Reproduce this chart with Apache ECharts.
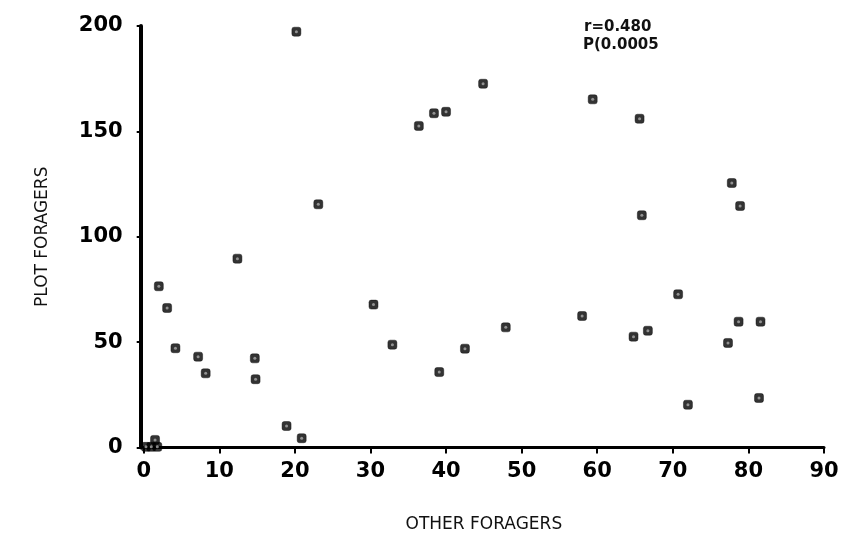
<!DOCTYPE html>
<html>
<head>
<meta charset="utf-8">
<script src="https://cdn.jsdelivr.net/npm/echarts@6/dist/echarts.min.js"></script>
<style>
html,body{margin:0;padding:0;background:#fff;}
#c{width:844px;height:545px;}
</style>
</head>
<body>
<div id="c"></div>
<script>
const xTitle = 'OTHER FORAGERS';
const yTitle = 'PLOT FORAGERS';
const annotation = ['r=0.480', 'P(0.0005'];
const xTicks = [0, 10, 20, 30, 40, 50, 60, 70, 80, 90];
const yTicks = [0, 50, 100, 150, 200];
const otherForagers = [20.2, 23.1, 44.9, 40.0, 38.4, 36.4, 59.4, 65.6, 77.8, 78.9, 65.9,
  12.4, 2.0, 3.1, 4.2, 7.2, 8.2, 14.7, 14.8, 18.9, 20.9, 1.5,
  30.4, 32.9, 39.1, 42.5, 47.9, 58.0,
  70.7, 66.7, 64.8, 78.7, 81.6, 77.3, 72.0, 81.4,
  0.3, 1.0, 1.8];
const plotForagers = [197.3, 115.4, 172.6, 159.3, 158.6, 152.6, 165.2, 156.0, 125.5, 114.6, 110.2,
  89.6, 76.5, 66.2, 47.1, 43.1, 35.2, 42.3, 32.4, 10.2, 4.4, 3.6,
  67.8, 48.8, 35.8, 46.9, 57.0, 62.4,
  72.7, 55.4, 52.6, 59.7, 59.7, 49.6, 20.3, 23.5,
  0.3, 0.3, 0.3];

const pts = otherForagers.map((x, i) => [x, plotForagers[i]]);
const font = 'DejaVu Sans';
const chart = echarts.init(document.getElementById('c'), null, {renderer: 'canvas'});
chart.setOption({
  animation: false,
  backgroundColor: '#fff',
  grid: {left: 143.7, right: 20, top: 26, bottom: 97.5, containLabel: false},
  xAxis: {
    type: 'value', min: xTicks[0], max: xTicks[xTicks.length - 1], interval: 10,
    name: xTitle, nameLocation: 'middle', nameGap: 69,
    nameTextStyle: {fontFamily: font, fontSize: 17, color: '#111', fontWeight: 'normal'},
    axisLine: {show: true, onZero: false, lineStyle: {color: '#000', width: 3}},
    axisTick: {show: true, inside: false, length: 6, lineStyle: {color: '#000', width: 2}},
    axisLabel: {fontFamily: font, fontSize: 21, fontWeight: 'bold', color: '#000', margin: 14},
    splitLine: {show: false}
  },
  yAxis: {
    type: 'value', min: yTicks[0], max: yTicks[yTicks.length - 1], interval: 50,
    offset: 3,
    name: yTitle, nameLocation: 'middle', nameGap: 90, nameRotate: 90,
    nameTextStyle: {fontFamily: font, fontSize: 17, color: '#111', fontWeight: 'normal'},
    axisLine: {show: true, onZero: false, lineStyle: {color: '#000', width: 4}},
    axisTick: {show: true, length: 4, lineStyle: {color: '#000', width: 2}},
    axisLabel: {fontFamily: font, fontSize: 21, fontWeight: 'bold', color: '#000', margin: 18},
    splitLine: {show: false}
  },
  graphic: [
    {type: 'text', left: 584, top: 20, style: {text: annotation[0], font: 'bold 15px "DejaVu Sans"', fill: '#111'}},
    {type: 'text', left: 583, top: 38, style: {text: annotation[1], font: 'bold 15px "DejaVu Sans"', fill: '#111'}}
  ],
  series: [{
    type: 'scatter',
    data: pts,
    symbol: 'roundRect',
    symbolSize: 9,
    itemStyle: {color: '#000', borderColor: '#000', borderWidth: 0.5}
  }, {
    type: 'scatter',
    data: pts,
    symbol: 'circle',
    symbolSize: 3,
    silent: true,
    itemStyle: {color: '#aaa'}
  }]
});
</script>
</body>
</html>
